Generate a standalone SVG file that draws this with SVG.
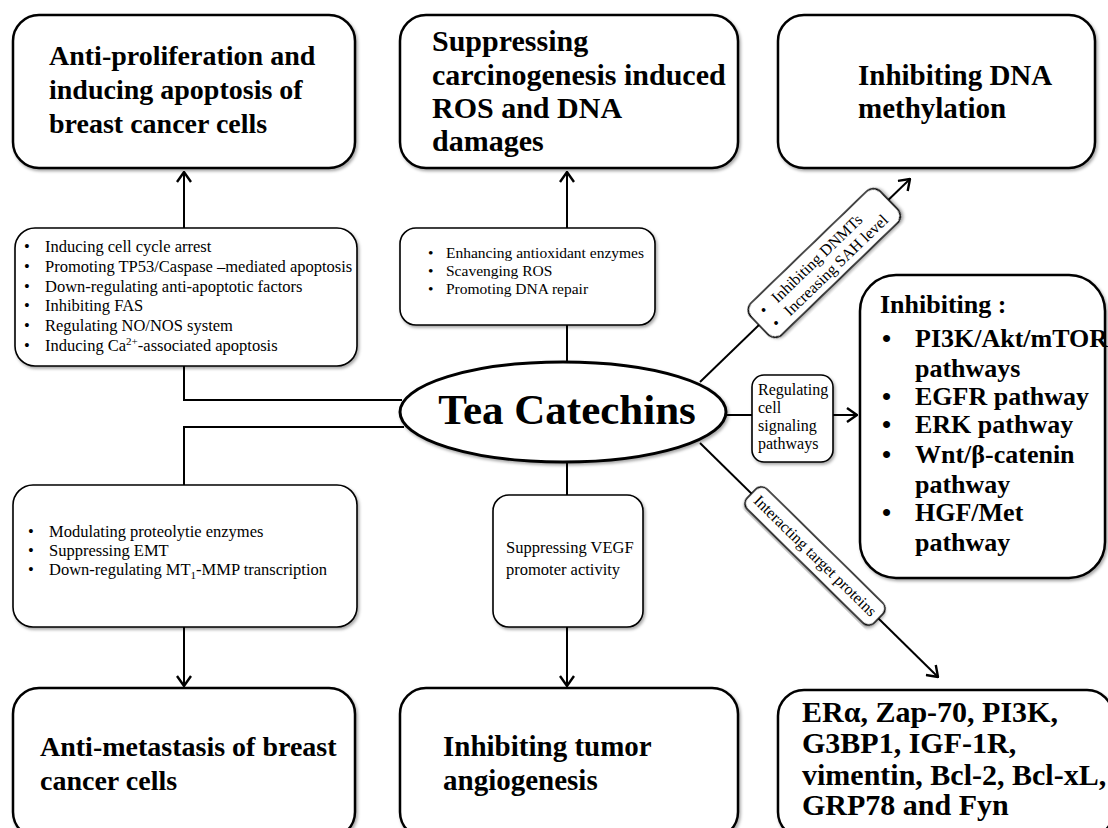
<svg xmlns="http://www.w3.org/2000/svg" width="1108" height="828" viewBox="0 0 1108 828">
<defs>
<filter id="sh" x="-10%" y="-10%" width="120%" height="120%">
<feDropShadow dx="1.5" dy="2" stdDeviation="1.5" flood-color="#000" flood-opacity="0.35"/>
</filter>
<marker id="arr" viewBox="0 0 12 16" refX="11" refY="8" markerWidth="12" markerHeight="16" markerUnits="userSpaceOnUse" orient="auto">
<path d="M1,1 L11,8 L1,15" fill="none" stroke="#000" stroke-width="2.4"/>
</marker>
</defs>
<style>
.box{fill:#fff;stroke:#000;stroke-width:2.5;filter:url(#sh)}
.sbox{fill:#fff;stroke:#000;stroke-width:1.6;filter:url(#sh)}
.big{font-family:"Liberation Serif","Times New Roman",serif;font-weight:bold;font-size:28px;fill:#000}
.mid{font-family:"Liberation Serif","Times New Roman",serif;font-weight:bold;font-size:26px;fill:#000}
.sm{font-family:"Liberation Serif","Times New Roman",serif;font-size:16.5px;fill:#000}
.xs{font-family:"Liberation Serif","Times New Roman",serif;font-size:16px;fill:#000}
.ln{fill:none;stroke:#000;stroke-width:2}
</style>
<rect width="1108" height="828" fill="#fff"/>
<g id="connectors">
<path class="ln" d="M184,228 L184,172" marker-end="url(#arr)"/>
<path class="ln" d="M184,366 L184,400 L402,400"/>
<path class="ln" d="M404,427 L184,427 L184,485"/>
<path class="ln" d="M184,627 L184,686" marker-end="url(#arr)"/>
<path class="ln" d="M567,228 L567,172" marker-end="url(#arr)"/>
<path class="ln" d="M567,325 L567,362"/>
<path class="ln" d="M567,462 L567,495"/>
<path class="ln" d="M567,627 L567,686" marker-end="url(#arr)"/>
<path class="ln" d="M727,415 L752,415"/>
<path class="ln" d="M833,415 L857,415" marker-end="url(#arr)"/>
<path class="ln" d="M700,382 L910,179" marker-end="url(#arr)"/>
<path class="ln" d="M700,443 L938,677" marker-end="url(#arr)"/>
</g>
<g id="n-antiprolif">
<rect class="box" x="13" y="15" width="342" height="153" rx="26"/>
<text class="big" x="49" y="65">Anti-proliferation and</text>
<text class="big" x="49" y="99">inducing apoptosis of</text>
<text class="big" x="49" y="133">breast cancer cells</text>
</g>
<g id="n-suppress">
<rect class="box" x="400" y="15" width="338" height="153" rx="26"/>
<g class="big" style="font-size:30px">
<text x="432" y="51">Suppressing</text>
<text x="432" y="85">carcinogenesis induced</text>
<text x="432" y="118">ROS and DNA</text>
<text x="432" y="151">damages</text>
</g>
</g>
<g id="n-dnameth">
<rect class="box" x="778" y="15" width="317" height="153" rx="26"/>
<g class="big" style="font-size:29px">
<text x="858" y="85">Inhibiting DNA</text>
<text x="858" y="118">methylation</text>
</g>
</g>
<g id="n-mech1">
<rect class="sbox" x="15" y="228" width="342" height="138" rx="20"/>
<g class="sm">
<text x="24" y="252">•</text><text x="45" y="252">Inducing cell cycle arrest</text>
<text x="24" y="272">•</text><text x="45" y="272">Promoting TP53/Caspase –mediated apoptosis</text>
<text x="24" y="292">•</text><text x="45" y="292">Down-regulating anti-apoptotic factors</text>
<text x="24" y="311">•</text><text x="45" y="311">Inhibiting FAS</text>
<text x="24" y="331">•</text><text x="45" y="331">Regulating NO/NOS system</text>
<text x="24" y="351">•</text><text x="45" y="351">Inducing Ca<tspan font-size="11" dy="-6">2+</tspan><tspan dy="6">-associated apoptosis</tspan></text>
</g>
</g>
<g id="n-mech2">
<rect class="sbox" x="400" y="228" width="255" height="97" rx="16"/>
<g class="sm" style="font-size:15.5px">
<text x="428" y="258">•</text><text x="446" y="258">Enhancing antioxidant enzymes</text>
<text x="428" y="276">•</text><text x="446" y="276">Scavenging ROS</text>
<text x="428" y="294">•</text><text x="446" y="294">Promoting DNA repair</text>
</g>
</g>
<g id="n-catechins">
<ellipse cx="563" cy="412" rx="163" ry="50" fill="#fff" stroke="#000" stroke-width="3" filter="url(#sh)"/>
<text x="567" y="424" text-anchor="middle" font-family="'Liberation Serif','Times New Roman',serif" font-weight="bold" font-size="43">Tea Catechins</text>
</g>
<g id="n-dnmt" transform="translate(764,310) rotate(-44)">
<rect class="sbox" x="-14" y="-14" width="180" height="44" rx="10"/>
<g class="xs">
<text x="-3" y="5">•</text><text x="14" y="5">Inhibiting DNMTs</text>
<text x="-3" y="23">•</text><text x="14" y="23">Increasing SAH level</text>
</g>
</g>
<g id="n-regulating">
<rect class="sbox" x="752" y="375" width="81" height="87" rx="12"/>
<g class="xs">
<text x="758" y="395">Regulating</text>
<text x="758" y="413">cell</text>
<text x="758" y="431">signaling</text>
<text x="758" y="449">pathways</text>
</g>
</g>
<g id="n-interacting" transform="translate(815,556) rotate(44.5)">
<rect class="sbox" x="-89" y="-14" width="178" height="28" rx="8"/>
<text class="xs" x="0" y="5" text-anchor="middle">Interacting target proteins</text>
</g>
<g id="n-pathways">
<rect class="box" x="860" y="275" width="245" height="303" rx="36"/>
<g class="mid">
<text x="880" y="313">Inhibiting :</text>
<text x="882" y="347">•</text><text x="915" y="347">PI3K/Akt/mTOR</text>
<text x="915" y="377">pathways</text>
<text x="882" y="405">•</text><text x="915" y="405">EGFR pathway</text>
<text x="882" y="433">•</text><text x="915" y="433">ERK pathway</text>
<text x="882" y="463">•</text><text x="915" y="463">Wnt/β-catenin</text>
<text x="915" y="493">pathway</text>
<text x="882" y="521">•</text><text x="915" y="521">HGF/Met</text>
<text x="915" y="551">pathway</text>
</g>
</g>
<g id="n-mech3">
<rect class="sbox" x="13" y="485" width="344" height="142" rx="20"/>
<g class="sm">
<text x="28" y="537">•</text><text x="49" y="537">Modulating proteolytie enzymes</text>
<text x="28" y="556">•</text><text x="49" y="556">Suppressing EMT</text>
<text x="28" y="575">•</text><text x="49" y="575">Down-regulating MT<tspan font-size="11" dy="4">1</tspan><tspan dy="-4">-MMP transcription</tspan></text>
</g>
</g>
<g id="n-vegf">
<rect class="sbox" x="493" y="495" width="150" height="132" rx="16"/>
<g class="sm">
<text x="506" y="553">Suppressing VEGF</text>
<text x="506" y="575">promoter activity</text>
</g>
</g>
<g id="n-antimet">
<rect class="box" x="13" y="688" width="342" height="150" rx="26"/>
<text class="big" x="40" y="756">Anti-metastasis of breast</text>
<text class="big" x="40" y="790">cancer cells</text>
</g>
<g id="n-angio">
<rect class="box" x="400" y="688" width="338" height="150" rx="26"/>
<g class="big" style="font-size:29px">
<text x="443" y="756">Inhibiting tumor</text>
<text x="443" y="790">angiogenesis</text>
</g>
</g>
<g id="n-targets">
<rect class="box" x="778" y="690" width="335" height="148" rx="26"/>
<g class="big" style="font-size:30px">
<text x="802" y="722">ERα, Zap-70, PI3K,</text>
<text x="802" y="753">G3BP1, IGF-1R,</text>
<text x="802" y="785">vimentin, Bcl-2, Bcl-xL,</text>
<text x="802" y="815">GRP78 and Fyn</text>
</g>
</g>
</svg>
